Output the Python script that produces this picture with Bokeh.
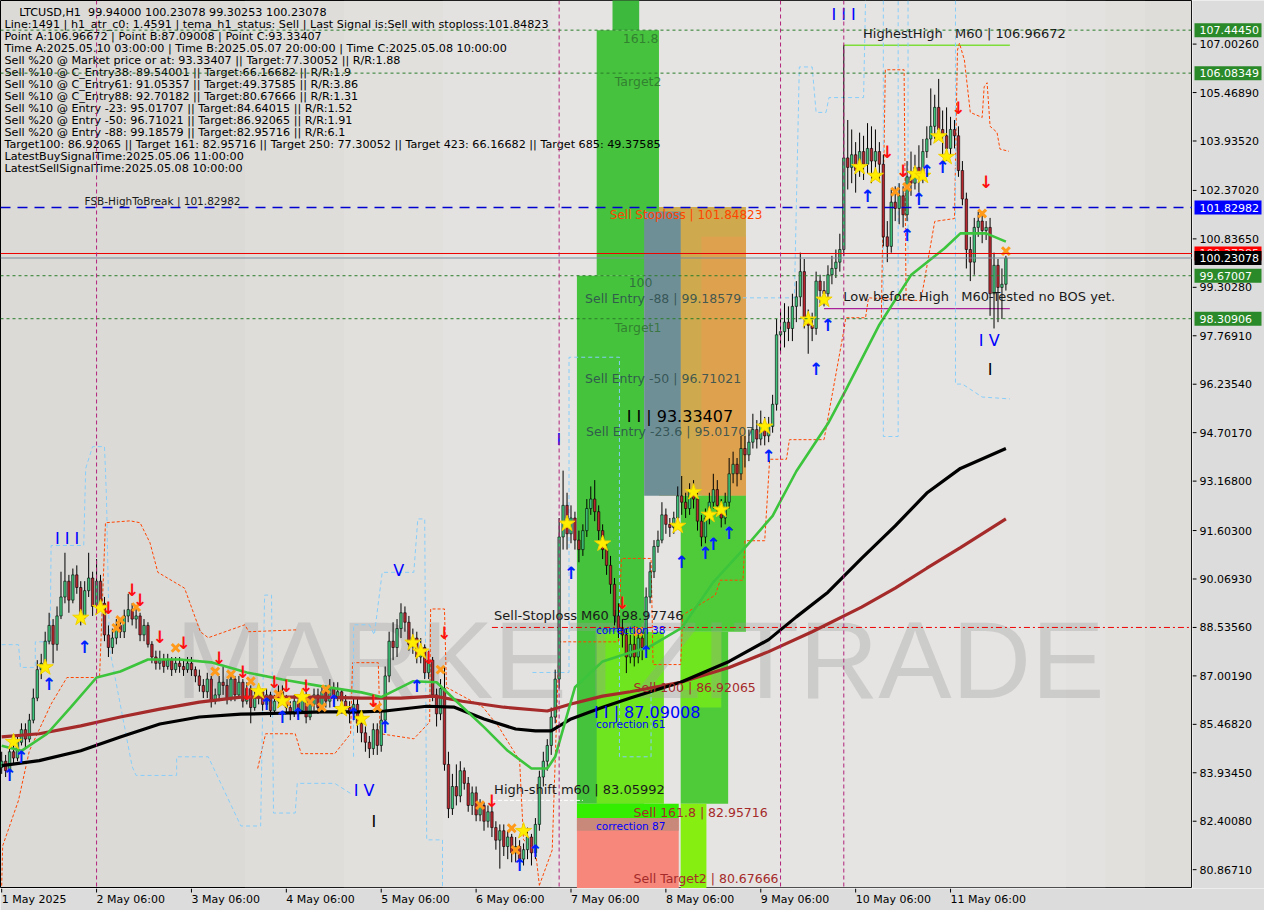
from bokeh.plotting import figure
from bokeh.models import Span, ColumnDataSource, Range1d
from bokeh.layouts import column, row
from bokeh.core.properties import value
from bokeh.embed import file_html
from bokeh.resources import INLINE

# ---------------- DATA ----------------
first_open = 84.1
closes = [
    84.3, 84.0, 84.6, 84.4, 84.9, 85.3, 85.0, 85.6, 86.3, 87.2, 87.4, 88.1, 88.6, 88.0, 88.9, 89.5, 90.0, 89.4, 90.2, 89.8, 88.9, 89.7, 90.1, 89.2, 90.0,
    89.3, 88.3, 87.9, 88.2, 88.6, 88.4, 88.9, 89.1, 88.8, 88.9, 88.3, 88.6, 88.0, 87.6, 87.4, 87.5, 87.3, 87.5, 87.2, 87.4, 87.3, 87.2, 87.4, 87.2, 87.0,
    86.7, 86.5, 86.9, 86.2, 86.4, 86.8, 86.7, 86.3, 86.9, 86.4, 86.8, 86.2, 86.6, 86.0, 86.3, 86.5, 86.1, 86.4, 85.9, 86.2, 86.5, 86.3, 86.0, 85.8, 86.2,
    85.9, 86.3, 85.7, 86.1, 86.4, 86.0, 86.5, 86.2, 86.6, 86.3, 86.5, 86.2, 86.0, 85.8, 86.1, 85.5, 85.2, 84.9, 84.7, 85.3, 84.8, 85.6, 87.0, 88.1, 87.9,
    88.5, 89.0, 88.7, 88.0, 88.2, 87.6, 87.9, 87.1, 87.5, 86.4, 85.8, 86.6, 84.2, 82.8, 83.5, 83.2, 84.0, 83.6, 82.9, 83.3, 82.6, 82.9, 82.4, 82.7, 82.2,
    81.8, 82.1, 81.6, 81.9, 81.4, 81.6, 81.2, 81.5, 81.9, 81.4, 82.3, 83.8, 84.3, 84.8, 85.7, 86.9, 91.4, 92.4, 91.5, 92.0, 91.3, 91.0, 91.6, 92.3, 92.6,
    92.2, 91.6, 91.0, 90.5, 89.9, 88.9, 88.5, 88.3, 87.6, 88.0, 87.6, 88.2, 87.9, 89.5, 90.3, 91.1, 91.3, 92.1, 91.8, 91.7, 92.0, 92.7, 92.5, 92.3, 92.9,
    92.6, 91.9, 91.4, 92.0, 92.5, 92.9, 92.4, 92.0, 92.5, 93.4, 93.7, 93.4, 94.2, 94.0, 94.4, 94.8, 94.5, 95.0, 94.6, 94.9, 95.6, 97.8, 97.9, 98.2, 98.0,
    98.7, 99.0, 99.8, 98.3, 98.1, 98.0, 99.5, 99.2, 99.1, 99.7, 99.9, 100.1, 100.5, 103.4, 103.1, 103.5, 103.0, 103.6, 103.2, 103.7, 103.3, 103.6, 103.2, 100.9, 100.6,
    102.0, 101.8, 102.2, 101.6, 102.8, 102.6, 103.1, 102.9, 103.6, 104.0, 104.4, 105.0, 104.3, 104.1, 103.7, 104.3, 104.1, 103.0, 102.1, 100.5, 100.1, 101.2, 101.4, 101.1, 101.2, 99.1, 100.0, 99.3, 99.4, 100.23078,
]
highs = [
    84.6, 84.5, 84.8, 84.8, 85.1, 85.5, 85.5, 85.8, 86.6, 87.5, 87.7, 88.4, 89.0, 88.8, 89.2, 90.3, 90.9, 90.2, 90.4, 90.5, 90.0, 90.0, 90.9, 90.3, 90.7,
    90.2, 89.5, 88.6, 88.5, 88.8, 88.8, 89.1, 89.6, 89.3, 89.2, 89.0, 88.8, 88.7, 88.1, 87.8, 87.8, 87.7, 87.7, 87.6, 87.6, 87.6, 87.5, 87.6, 87.6, 87.3,
    87.2, 86.9, 87.1, 87.0, 86.6, 87.0, 87.3, 86.9, 87.1, 87.0, 87.0, 86.9, 86.8, 86.7, 86.5, 86.7, 86.6, 86.6, 86.5, 86.4, 86.7, 86.7, 86.4, 86.2, 86.4,
    86.4, 86.5, 86.5, 86.3, 86.6, 86.6, 86.7, 86.7, 86.9, 86.8, 86.8, 86.6, 86.4, 86.2, 86.3, 86.3, 85.7, 85.4, 85.1, 85.5, 85.5, 85.9, 87.3, 88.4, 88.7,
    88.8, 89.3, 89.2, 88.9, 88.5, 88.4, 88.2, 88.0, 87.8, 87.6, 86.6, 86.9, 87.3, 84.6, 83.9, 84.2, 84.3, 84.1, 83.8, 83.5, 83.5, 83.1, 83.0, 82.9, 82.9,
    82.4, 82.3, 82.3, 82.1, 82.0, 81.9, 81.8, 81.7, 82.2, 82.0, 82.5, 84.0, 84.6, 85.0, 86.0, 87.2, 92.0, 93.5, 92.8, 92.4, 92.2, 91.6, 91.8, 92.6, 93.0,
    93.2, 92.4, 91.8, 91.2, 90.8, 90.1, 89.3, 88.8, 88.5, 88.3, 88.4, 88.5, 88.4, 89.8, 90.6, 91.3, 91.6, 92.5, 92.3, 92.0, 92.2, 93.0, 93.33, 92.8, 93.1,
    93.2, 92.8, 92.1, 92.3, 92.8, 93.4, 93.2, 92.6, 92.8, 93.9, 94.1, 93.9, 94.6, 94.6, 94.8, 95.3, 95.1, 95.4, 95.2, 95.2, 95.9, 98.3, 98.6, 98.8, 98.7,
    99.1, 99.5, 100.4, 100.2, 98.6, 98.5, 99.8, 99.7, 99.5, 100.0, 100.3, 100.5, 101.0, 106.97, 104.6, 104.3, 103.9, 104.2, 104.1, 104.5, 104.4, 104.3, 103.9, 103.5, 101.4,
    102.4, 102.5, 102.6, 102.5, 103.3, 103.6, 103.5, 103.8, 104.0, 104.4, 105.6, 105.4, 105.9, 104.9, 105.0, 104.7, 104.6, 104.4, 103.3, 102.3, 100.9, 101.5, 101.7, 101.6, 101.4, 101.5, 100.4, 100.2, 99.9, 100.3,
]
lows = [
    83.9, 83.8, 83.9, 84.2, 84.3, 84.8, 84.7, 84.9, 85.5, 86.2, 86.9, 87.2, 88.0, 87.4, 87.8, 88.8, 89.3, 89.0, 89.3, 89.6, 88.6, 88.8, 89.5, 88.9, 89.1,
    89.1, 88.1, 87.6, 87.7, 88.0, 88.2, 88.2, 88.7, 88.6, 88.5, 88.1, 88.1, 87.9, 87.4, 87.2, 87.2, 87.1, 87.2, 87.0, 87.1, 87.1, 87.0, 87.1, 87.0, 86.8,
    86.5, 86.3, 86.3, 86.0, 86.1, 86.2, 86.4, 86.1, 86.2, 86.2, 86.3, 86.0, 86.1, 85.5, 85.9, 86.1, 85.9, 86.0, 85.7, 85.8, 86.0, 86.1, 85.8, 85.6, 85.7,
    85.7, 85.8, 85.5, 85.6, 85.9, 85.8, 85.9, 86.0, 86.0, 86.1, 86.2, 86.0, 85.8, 85.5, 85.6, 85.2, 84.9, 84.6, 84.4, 84.5, 84.5, 84.6, 85.4, 86.8, 87.5,
    87.6, 88.2, 88.4, 87.8, 87.7, 87.4, 87.4, 86.9, 86.9, 86.2, 85.4, 85.6, 84.0, 82.5, 82.6, 82.9, 83.0, 83.4, 82.7, 82.6, 82.4, 82.4, 82.1, 82.2, 81.9,
    81.5, 80.9, 81.3, 81.2, 81.1, 81.1, 80.9, 81.0, 81.2, 81.0, 81.2, 82.1, 83.5, 84.0, 84.5, 85.5, 86.6, 91.0, 91.0, 91.2, 91.0, 90.6, 90.8, 91.4, 92.1,
    91.9, 91.3, 90.7, 90.2, 89.6, 88.6, 88.2, 87.9, 87.09, 87.4, 87.3, 87.4, 87.5, 87.8, 89.3, 90.1, 90.9, 91.2, 91.5, 91.4, 91.5, 91.8, 92.1, 92.0, 92.1,
    92.3, 91.6, 91.1, 91.2, 91.8, 92.3, 92.1, 91.7, 91.8, 92.3, 93.1, 93.0, 93.2, 93.6, 93.8, 94.2, 94.2, 94.3, 94.3, 94.4, 94.7, 95.4, 97.2, 97.4, 97.6,
    97.6, 98.2, 98.7, 98.0, 97.2, 97.6, 97.8, 98.8, 98.7, 98.9, 99.4, 99.6, 99.8, 100.3, 102.4, 102.6, 102.3, 102.8, 102.7, 102.9, 102.6, 102.8, 102.7, 100.6, 100.1,
    100.4, 101.4, 101.3, 101.2, 101.4, 102.2, 102.4, 102.3, 102.6, 103.4, 103.8, 104.0, 104.1, 103.5, 103.3, 103.5, 103.7, 102.8, 101.9, 99.9, 99.5, 99.7, 100.9, 100.7, 100.8, 98.4, 98.0, 98.2, 98.3, 99.2,
]

# moving averages (bar index, price)
ma_fast_i = [0, 5, 11.5, 17.5, 24, 30, 37, 45, 53, 62, 71, 81, 91, 96, 104, 110, 115, 122, 128, 134, 138, 140, 145, 152, 159, 163.5, 172, 180, 188.5, 195, 201, 209, 213.5, 222, 230, 238.5, 242.5, 249, 254]
ma_fast_v = [84.79, 84.63, 85.17, 86.01, 86.95, 87.14, 87.52, 87.52, 87.43, 87.11, 86.89, 86.67, 86.48, 86.33, 86.83, 86.80, 86.20, 85.38, 84.63, 84.07, 84.07, 84.44, 86.64, 87.46, 87.74, 87.90, 88.52, 89.97, 91.13, 92.07, 93.48, 94.99, 96.05, 98.12, 99.69, 100.54, 101.01, 101.01, 100.75]
ma_mid_i = [0, 9.5, 20, 30, 40, 50, 60.5, 71, 81, 91, 97, 107.5, 114.5, 122, 130, 135, 139, 144, 152, 159, 171.75, 184, 194, 201, 209, 217.5, 226, 234, 242.5, 254]
ma_mid_v = [84.16, 84.32, 84.63, 85.07, 85.48, 85.70, 85.79, 85.82, 85.86, 85.86, 85.89, 86.04, 86.01, 85.64, 85.32, 85.26, 85.26, 85.64, 86.01, 86.30, 86.80, 87.46, 88.15, 88.87, 89.65, 90.72, 91.75, 92.79, 93.57, 94.20]
ma_slow_i = [0, 9.5, 20, 30, 40, 50, 60.5, 71, 81, 91, 101, 109.5, 116.5, 127, 138, 144, 152, 159, 171.75, 184, 194, 205, 217.5, 226, 234, 242.5, 254]
ma_slow_v = [85.07, 85.17, 85.42, 85.70, 85.95, 86.17, 86.33, 86.33, 86.33, 86.30, 86.30, 86.36, 86.20, 86.01, 85.89, 86.11, 86.36, 86.50, 86.80, 87.27, 87.77, 88.40, 89.18, 89.78, 90.41, 91.06, 91.97]

# stepped dashed bands (bar index, price)
orange_bands = [
    ([0, 0.25, 4.25, 7, 12.5, 16.5, 24.75, 26.25, 32.5, 35, 37.5, 39.5, 46.25, 50.25, 52.25, 61.5, 62.5, 74.75],
     [80.36, 81.62, 83.06, 84.63, 86.11, 86.95, 86.95, 91.85, 91.91, 91.85, 91.22, 90.28, 89.78, 88.40, 88.21, 88.62, 88.40, 88.46]),
    ([64.75, 66.75, 74.25, 75.75, 84.25, 88.25, 88.75, 95.25, 95.75, 104.25, 108.25, 108.5, 112, 112.5, 121.75, 125.75, 131, 132, 135, 136],
     [84.07, 85.17, 85.17, 84.54, 84.54, 85.17, 87.42, 87.42, 85.17, 85.01, 85.54, 89.12, 89.12, 86.64, 86.01, 85.38, 84.32, 81.81, 81.49, 80.37]),
    ([136, 139.25, 141, 156, 156.75, 164.25, 164.75, 171.75, 172.25, 180.5, 181.75, 187.5, 188, 193, 194.25, 198.5, 199.25, 208, 213, 213.5, 218.5, 219.25, 232.5, 236, 241, 241.75, 242.25, 243.5, 245, 248, 248.5, 249.25, 250, 251.75, 252.5, 254.75],
     [80.37, 81.49, 88.08, 88.08, 90.72, 90.72, 87.36, 87.36, 88.93, 89.56, 90.03, 90.03, 91.28, 91.28, 93.86, 93.86, 94.48, 94.48, 97.93, 98.34, 98.34, 98.97, 98.88, 101.39, 101.48, 106.81, 107.03, 106.5, 104.84, 104.68, 105.65, 105.78, 104.40, 104.21, 103.68, 103.61]),
    ([222.5, 223.5, 228.25, 228.75], [98.34, 106.19, 106.19, 98.97]),
]
blue_bands = [
    ([0, 4.25, 4.75, 8.5, 8.5, 12.25, 12.5, 20.75, 21.25, 23, 26, 26.5, 27.25, 33, 34, 44.25, 44.25, 52.25, 60.5, 65.5, 66.5, 68.25, 68.75, 74.25, 74.75, 84.25, 88.25],
     [87.99, 87.99, 87.27, 87.27, 88.08, 88.08, 91.13, 91.13, 93.57, 94.26, 94.26, 92.69, 87.89, 84.13, 83.85, 83.85, 84.44, 84.44, 82.25, 82.25, 89.56, 89.56, 82.66, 82.66, 83.6, 83.6, 83.28]),
    ([89, 89, 93, 94.25, 96.25, 104.25, 105.25, 107, 107.5, 111.5, 111.5],
     [84.44, 88.62, 88.62, 88.30, 90.28, 90.28, 91.97, 91.97, 81.81, 81.81, 80.27]),
    ([134.25, 143.5, 143.5, 156.25, 156.25, 164.25, 164.25], [87.11, 87.11, 97.09, 97.09, 84.44, 84.44, 86.73]),
    ([187.5, 200.5, 201.75, 205, 206, 208.5, 209.25, 218, 218.5], [98.97, 98.97, 106.28, 106.28, 104.84, 104.84, 105.31, 105.31, 108.38]),
    ([223, 223, 226.75, 226.75], [108.38, 94.58, 94.58, 108.38]),
    ([229.25, 229.25], [108.38, 100.01]),
    ([241.25, 241.25, 243, 248, 255], [108.38, 96.24, 96.24, 95.83, 95.77]),
]

# signal markers (bar index, price)
star_i = [3, 11, 20, 25, 65, 71, 76, 86, 91, 104, 106, 132, 143, 152, 171, 175, 179, 182, 193, 204, 208, 217, 221, 231, 233, 237, 239]
star_p = [84.91, 87.27, 88.84, 89.15, 86.51, 86.20, 86.33, 85.95, 85.64, 88.05, 87.77, 82.09, 91.82, 91.19, 91.75, 92.82, 92.10, 92.26, 94.89, 98.28, 98.91, 103.11, 102.83, 102.89, 102.83, 104.08, 103.43]
cross_i = [29, 30, 34, 44, 54, 58, 63, 70, 72, 78, 81, 82, 95, 111, 121, 129, 130, 161, 226, 229, 248, 254]
cross_p = [88.52, 88.77, 89.18, 87.89, 87.14, 87.05, 86.83, 86.42, 86.20, 86.17, 86.01, 86.58, 86.01, 87.20, 82.91, 82.18, 81.49, 88.40, 102.33, 102.48, 101.64, 100.45]
up_i = [2, 5, 12, 21, 67, 71, 75, 84, 89, 97, 105, 131, 135, 144, 163, 172, 178, 180, 184, 194, 206, 209, 219, 229, 232, 234, 238]
up_p = [83.85, 84.44, 86.73, 87.93, 86.11, 85.70, 85.79, 86.20, 85.79, 85.38, 86.67, 81.02, 81.46, 90.25, 87.77, 90.62, 90.88, 91.19, 91.53, 93.95, 96.71, 98.12, 102.20, 100.95, 102.11, 102.99, 103.11]
dn_i = [27, 33, 35, 40, 46, 55, 61, 62, 69, 72, 77, 94, 108, 112, 124, 157, 224, 228, 242, 249]
dn_p = [89.15, 89.72, 89.40, 88.24, 88.05, 87.58, 87.11, 86.42, 86.80, 86.67, 86.67, 86.20, 87.58, 88.37, 83.03, 89.31, 103.58, 102.99, 104.99, 102.64]

# axes
xtick_idx = [0, 24, 48, 72, 96, 120, 144, 168, 192, 216, 240]
xtick_labels = ["1 May 2025", "2 May 06:00", "3 May 06:00", "4 May 06:00", "5 May 06:00", "6 May 06:00",
                "7 May 06:00", "8 May 06:00", "9 May 06:00", "10 May 06:00", "11 May 06:00"]
ytick_vals = [107.0026, 105.4689, 103.9352, 102.3702, 100.8365, 99.3028, 97.7691, 96.2354, 94.7017,
              93.168, 91.603, 90.0693, 88.5356, 87.0019, 85.4682, 83.9345, 82.4008, 80.8671]

# levels
lvl_green = [107.44450, 106.08349, 99.67007, 98.30906]
lvl_fsb = 101.82982
lvl_red = 100.37385
lvl_bid = 100.23078
lvl_stop_m60 = 88.5356
lvl_high = 106.96672
lvl_low_before = 98.626
lvl_high_shift = 83.05992
sell_stop = 101.84823
c_entry88 = 92.70182
sell_161 = 82.95716
fib_mid = 88.4
vline_idx = [24, 141, 197, 213]

header = [
    "Line:1491 | h1_atr_c0: 1.4591 | tema_h1_status: Sell | Last Signal is:Sell with stoploss:101.84823",
    "Point A:106.96672 | Point B:87.09008 | Point C:93.33407",
    "Time A:2025.05.10 03:00:00 | Time B:2025.05.07 20:00:00 | Time C:2025.05.08 10:00:00",
    "Sell %20 @ Market price or at: 93.33407 || Target:77.30052 || R/R:1.88",
    "Sell %10 @ C_Entry38: 89.54001 || Target:66.16682 || R/R:1.9",
    "Sell %10 @ C_Entry61: 91.05357 || Target:49.37585 || R/R:3.86",
    "Sell %10 @ C_Entry88: 92.70182 || Target:80.67666 || R/R:1.31",
    "Sell %10 @ Entry -23: 95.01707 || Target:84.64015 || R/R:1.52",
    "Sell %20 @ Entry -50: 96.71021 || Target:86.92065 || R/R:1.91",
    "Sell %20 @ Entry -88: 99.18579 || Target:82.95716 || R/R:6.1",
    "Target100: 86.92065 || Target 161: 82.95716 || Target 250: 77.30052 || Target 423: 66.16682 || Target 685: 49.37585",
    "LatestBuySignalTime:2025.05.06 11:00:00",
    "LatestSellSignalTime:2025.05.08 10:00:00",
]
title_line = "LTCUSD,H1\u00a0\u00a099.94000 100.23078 99.30253 100.23078"

tags = [
    (lvl_green[0], "107.44450", "#2a8a2a", "white"),
    (lvl_green[1], "106.08349", "#2a8a2a", "white"),
    (lvl_fsb, "101.82982", "#0000ff", "white"),
    (lvl_red, "100.37385", "#ff0000", "#ffd0d0"),
    (lvl_bid, "100.23078", "#000000", "white"),
    (lvl_green[2], "99.67007", "#2a8a2a", "white"),
    (lvl_green[3], "98.30906", "#2a8a2a", "white"),
]

# ---------------- FIGURE ----------------
XL, XR = -0.3, 301.2
YB, YT = 80.271, 108.383
FW, FH = 1192, 888
SIDE_W, BOT_H = 72, 22
BG_OUT = "#dcdcdc"


def X(px):
    return XL + (px - 3) / 1205.0 * (XR - XL)


def Y(py):
    return YT - py / 896.0 * (YT - YB)


yr = Range1d(YB, YT)
p = figure(frame_width=FW, frame_height=FH, output_backend="svg", toolbar_location=None,
           x_range=Range1d(XL, XR), y_range=yr, x_axis_location=None, y_axis_location=None,
           min_border=0, background_fill_color="#dbdad7", border_fill_color=BG_OUT)
p.outline_line_color = "black"
p.outline_line_width = 1
p.grid.visible = False

FONT = value("DejaVu Sans")

# soft background light
for a, b in [(250, 1208), (350, 1160), (450, 1120), (560, 1080)]:
    p.quad(left=X(a), right=X(b), bottom=YB - 1, top=YT + 1, fill_color="white", fill_alpha=0.09, line_color=None)

# zones
zones = [
    (155, 161.75, YT + 1, lvl_green[0], "#3dba3d"),
    (151, 166.75, lvl_green[0], lvl_green[2], "#46c23e"),
    (146, 163, lvl_green[2], sell_161, "#45c33c"),
    (166.75, 188.75, sell_stop, c_entry88, "#cea94d"),
    (177.5, 188.75, 100.9, c_entry88, "#dea24f"),
    (163, 172.25, 101.7, c_entry88, "#6f8f97"),
    (172.25, 188.75, c_entry88, fib_mid, "#4fcb3a"),
    (172.25, 184.25, fib_mid, sell_161, "#4fcb3a"),
    (151, 168, fib_mid, sell_161, "#6fe51f"),
    (172.25, 182.5, fib_mid, 86.0, "#6fe51f"),
    (146, 171.75, sell_161, 82.5, "#33ee00"),
    (146, 171.75, 82.5, YB - 1, "#f6877a"),
    (146, 171.75, 82.5, 82.1, "#c8897a"),
    (172.25, 178.75, sell_161, YB - 1, "#86ee10"),
]
for l, r, t, b, c in zones:
    p.quad(left=l - 0.5, right=r - 0.5, top=t, bottom=b, fill_color=c, line_color=None)

# watermark
p.text(x=[X(180)], y=[Y(665)], text=["MARKETZITRADE"], text_font=value("Liberation Sans"),
       text_font_size="110px", text_color="#9a9a9a", text_alpha=0.33, text_baseline="middle")

# horizontal / vertical lines
for lv in lvl_green:
    p.add_layout(Span(location=lv, dimension="width", line_color="#2a7d2a", line_dash="3 3", line_width=1))
p.add_layout(Span(location=lvl_fsb, dimension="width", line_color="#0000d0", line_dash="10 7", line_width=1.3))
p.add_layout(Span(location=lvl_red, dimension="width", line_color="#ee0000", line_width=1))
p.add_layout(Span(location=lvl_bid, dimension="width", line_color="#7b8a9a", line_width=1.2))
for vi in vline_idx:
    p.add_layout(Span(location=vi, dimension="height", line_color="#b2227a", line_dash="4 3", line_width=1))
p.line(x=[124, XR], y=[lvl_stop_m60, lvl_stop_m60], line_color="#ee0000", line_dash="6 3 2 3", line_width=1)
p.line(x=[213, 255], y=[lvl_high, lvl_high], line_color="#7fdd3a", line_width=1.5)
p.line(x=[208, 255], y=[lvl_low_before, lvl_low_before], line_color="#aa2299", line_width=1.2)
p.line(x=[124, 147], y=[lvl_high_shift, lvl_high_shift], line_color="white", line_dash="4 2", line_width=1)

for xs, ys in orange_bands:
    p.line(x=xs, y=ys, line_color="#ff4500", line_dash="3 2", line_width=1)
for xs, ys in blue_bands:
    p.line(x=xs, y=ys, line_color="#87cefa", line_dash="4 3", line_width=1)

# candles
n = min(len(closes), len(highs), len(lows))
opens = [first_open] + closes[:n - 1]
idx = list(range(n))
hi = [max(highs[k], opens[k], closes[k]) for k in range(n)]
lo = [min(lows[k], opens[k], closes[k]) for k in range(n)]
top = [max(opens[k], closes[k]) for k in range(n)]
bot = [min(opens[k], closes[k]) for k in range(n)]
col = ["#3fc27a" if closes[k] >= opens[k] else "#b8262e" for k in range(n)]
src = ColumnDataSource(dict(i=idx, hi=hi, lo=lo, top=top, bot=bot, col=col))
p.segment(x0="i", y0="lo", x1="i", y1="hi", source=src, line_color="black", line_width=1)
p.vbar(x="i", top="top", bottom="bot", width=0.62, source=src, fill_color="col", line_color="black", line_width=0.6)

# moving averages
p.line(x=ma_slow_i, y=ma_slow_v, line_color="#a52a2a", line_width=3.2)
p.line(x=ma_mid_i, y=ma_mid_v, line_color="black", line_width=3.2)
p.line(x=ma_fast_i, y=ma_fast_v, line_color="#3cc43c", line_width=2.6)

# markers
p.scatter(x=cross_i, y=cross_p, marker="x", size=11, line_color="#ff9a1a", line_width=3)
p.scatter(x=star_i, y=star_p, marker="star", size=17, fill_color="#ffee00", line_color="#f2d000")
p.text(x=up_i, y=up_p, text=["↑"] * len(up_i), text_font=FONT, text_font_style="bold",
       text_font_size="17px", text_color="#0022ff", text_align="center", text_baseline="middle")
p.text(x=dn_i, y=dn_p, text=["↓"] * len(dn_i), text_font=FONT, text_font_style="bold",
       text_font_size="17px", text_color="#ff1010", text_align="center", text_baseline="middle")


def txt(px, py, s, size, color, alpha=1.0, font="DejaVu Sans"):
    p.text(x=[X(px)], y=[Y(py)], text=[s], text_font=value(font), text_font_size=size,
           text_color=color, text_alpha=alpha, text_baseline="middle", text_align="left")


NB = "\u00a0"
# zone labels
txt(632, 38, "161.8", "12.5px", "#2d6f2d", 0.8)
txt(624, 82, "Target2", "12.5px", "#2d6f2d", 0.8)
txt(619, 216, "Sell Stoploss | 101.84823", "12px", "#ff4500")
txt(638, 285, "100", "12.5px", "#2d5f3f", 0.85)
txt(594, 301, "Sell Entry -88 | 99.18579", "12.5px", "#2f4f4f", 0.9)
txt(624, 330, "Target1", "12.5px", "#2d6f2d", 0.8)
txt(594, 381, "Sell Entry -50 | 96.71021", "12.5px", "#2f4f4f", 0.9)
txt(636, 420, "I I | 93.33407", "16px", "black")
txt(595, 435, "Sell Entry -23.6 | 95.01707", "12.5px", "#2f4f4f", 0.9)
txt(502, 621, "Sell-Stoploss M60 | 98.97746", "13px", "#1a1a1a")
txt(605, 635, "correction 38", "10.5px", "#0000ff")
txt(643, 693, "Sell 100 | 86.92065", "12.5px", "#a52a2a")
txt(603, 718, "I I | 87.09008", "16px", "#0000ff")
txt(605, 730, "correction 61", "10.5px", "#0000ff")
txt(502, 796, "High-shift m60 | 83.05992", "13px", "#1a1a1a")
txt(643, 819, "Sell 161.8 | 82.95716", "12.5px", "#a52a2a")
txt(605, 833, "correction 87", "10.5px", "#0000ff")
txt(643, 886, "Sell Target2 | 80.67666", "12.5px", "#a52a2a")
txt(875, 33, "HighestHigh" + NB * 3 + "M60 | 106.96672", "13px", "#1a1a1a")
txt(855, 299, "Low before High" + NB * 3 + "M60-Tested no BOS yet.", "13px", "#1a1a1a")
txt(88, 202, "FSB-HighToBreak | 101.82982", "10.5px", "#1a1a1a")
# wave labels
txt(58, 543, "I I I", "16px", "#0000ff")
txt(400, 575, "V", "16px", "#0000ff")
txt(360, 797, "I V", "16px", "#0000ff")
txt(378, 828, "I", "16px", "black")
txt(565, 443, "I", "16px", "#0000ff")
txt(843, 14, "I I I", "16px", "#0000ff")
txt(992, 343, "I V", "16px", "#0000ff")
txt(1001, 372, "I", "16px", "black")

# header
txt(22, 12, title_line, "11.2px", "black")
for k, s in enumerate(header):
    txt(7, 24.2 + 12.07 * k, s, "11.2px", "black")

# ---------------- right price scale ----------------
side = figure(frame_width=SIDE_W, frame_height=FH, output_backend="svg", toolbar_location=None,
              x_range=Range1d(0, SIDE_W), y_range=yr, x_axis_location=None, y_axis_location=None,
              min_border=0, background_fill_color=BG_OUT, border_fill_color=BG_OUT)
side.outline_line_color = None
side.grid.visible = False
side.segment(x0=[0] * len(ytick_vals), x1=[4] * len(ytick_vals), y0=ytick_vals, y1=ytick_vals,
             line_color="black", line_width=1)
side.text(x=[7] * len(ytick_vals), y=ytick_vals, text=[f"{v:.5f}" for v in ytick_vals],
          text_font=FONT, text_font_size="11px", text_color="black", text_baseline="middle")
tag_h = 14 * (YT - YB) / FH
for lv, s, bg, fg in tags:
    side.quad(left=2, right=SIDE_W - 3, top=lv + tag_h / 2, bottom=lv - tag_h / 2, fill_color=bg, line_color=None)
    side.text(x=[7], y=[lv], text=[s], text_font=FONT, text_font_size="11px", text_color=fg,
              text_baseline="middle")

# ---------------- bottom time scale ----------------
bw = FW + SIDE_W
bottom = figure(frame_width=bw, frame_height=BOT_H, output_backend="svg", toolbar_location=None,
                x_range=Range1d(XL, XL + (XR - XL) * bw / FW), y_range=Range1d(0, BOT_H),
                x_axis_location=None, y_axis_location=None, min_border=0,
                background_fill_color=BG_OUT, border_fill_color=BG_OUT)
bottom.outline_line_color = None
bottom.grid.visible = False
bottom.segment(x0=xtick_idx, x1=xtick_idx, y0=[BOT_H] * len(xtick_idx), y1=[BOT_H - 4] * len(xtick_idx),
               line_color="black", line_width=1)
bottom.text(x=xtick_idx, y=[BOT_H - 11] * len(xtick_idx), text=xtick_labels, text_font=FONT,
            text_font_size="11px", text_color="black", text_baseline="middle", text_align="left")

layout = column(row(p, side), bottom)
open("out.html", "w").write(file_html(layout, INLINE))
